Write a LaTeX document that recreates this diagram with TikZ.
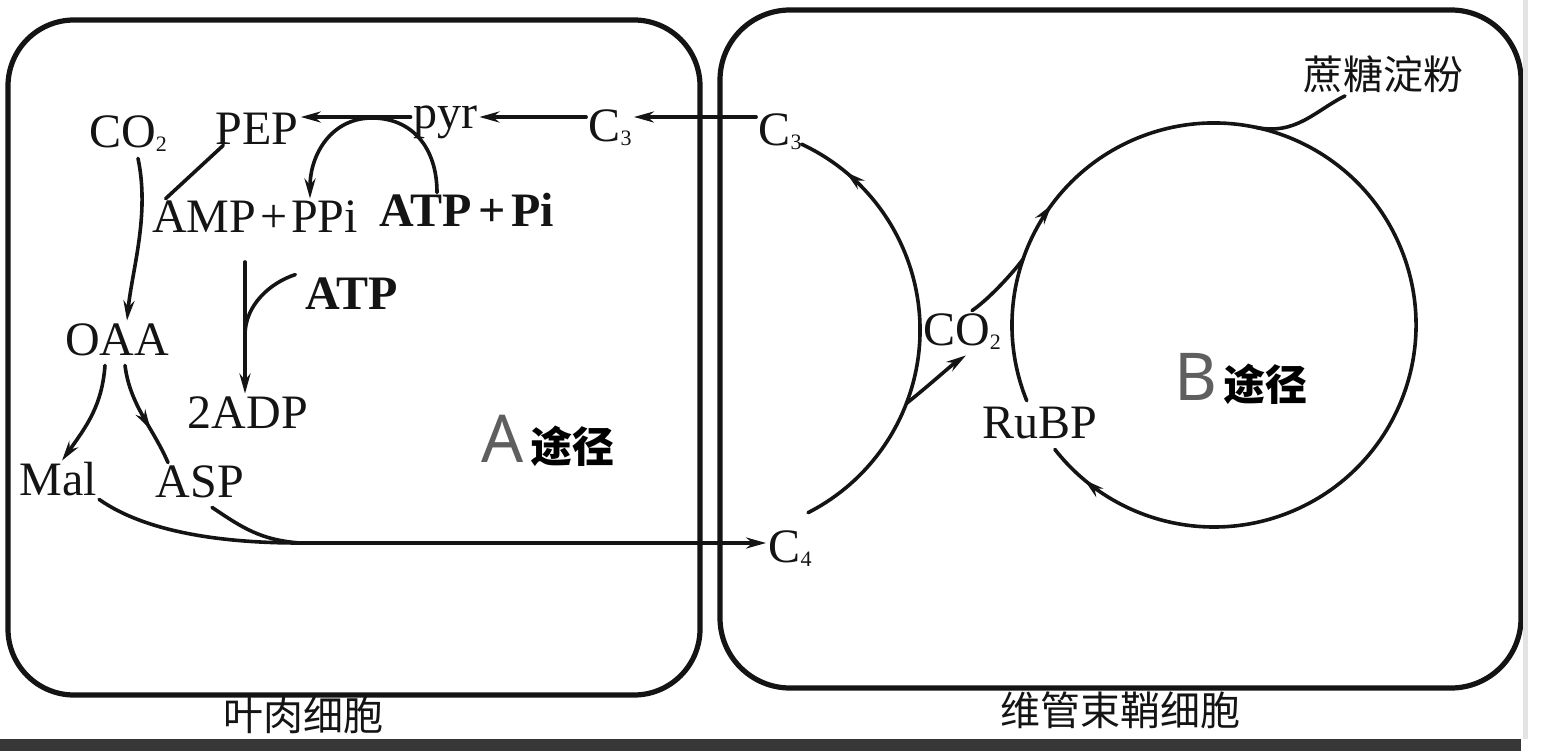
\documentclass[tikz,border=0pt]{standalone}
\usepackage{fontspec}
\setmainfont{Liberation Serif}
\newfontfamily\cjk{Noto Sans CJK SC}
\newfontfamily\latsans{Noto Sans}
\usetikzlibrary{arrows.meta,decorations.markings}
\definecolor{inkc}{RGB}{20,20,20}
\definecolor{grayA}{RGB}{95,95,95}
\definecolor{barc}{RGB}{55,55,55}
\newcommand\mysub[1]{\raisebox{-2pt}{\fontsize{11}{12}\selectfont #1}}
\begin{document}
\begin{tikzpicture}[x=0.5pt,y=0.5pt,
  txt/.style={font=\fontsize{24}{28}\selectfont, inner sep=1pt, text height=16pt, text depth=4pt, anchor=base, text=inkc},
  boldtxt/.style={txt, font=\fontsize{24}{28}\selectfont\bfseries},
  cjkt/.style={font=\cjk\fontsize{20}{24}\selectfont, inner sep=1pt, anchor=base, text=inkc},
  line/.style={line width=1.8pt, draw=inkc, line cap=round},
  box/.style={line width=2.6pt, draw=inkc},
  arr/.style={-{Stealth[length=10pt,width=5.5pt]}},
  marrowo/.style={postaction={decorate,decoration={markings,mark=at position #1 with {\arrow{Stealth[length=10pt,width=5.5pt,fill=white]}}}}},
]
\useasboundingbox (0,0) rectangle (1545,-753);

% cells
\draw[box, rounded corners=33pt] (8,-20) rectangle (700,-695);
\draw[box, rounded corners=35pt] (720,-10) rectangle (1521,-688);
\fill[barc] (0,-739) rectangle (1521,-751);
\fill[gray!22] (1523,0) rectangle (1528,-739);

% nodes
\node[txt] (co2l) at (128,-148) {CO\mysub{2}};
\node[txt] (pep) at (257,-145) {PEP};
\node[txt] (pyr) at (445,-129) {pyr};
\node[txt] (c3l) at (610,-142) {C\mysub{3}};
\node[txt] (c3r) at (780,-146) {C\mysub{3}};
\node[txt] (amp) at (255,-233) {\spaceskip=2pt AMP + PPi};
\node[boldtxt] (atppi) at (467,-227) {\spaceskip=3pt ATP + Pi};
\node[boldtxt] (atp) at (352,-309) {ATP};
\node[txt] (oaa) at (117,-355) {OAA};
\node[txt] (adp) at (248,-428) {2ADP};
\node[txt] (mal) at (58,-495) {Mal};
\node[txt] (asp) at (200,-497) {ASP};
\node[txt] (c4) at (790,-562) {C\mysub{4}};
\node[txt] (co2r) at (962,-345) {CO\mysub{2}};
\node[txt] (rubp) at (1040,-438) {RuBP};
\node[cjkt] (sugar) at (1383,-90) {蔗糖淀粉};
\node[anchor=base, inner sep=1pt] (apath) at (548,-462) {{\latsans\color{grayA}\fontsize{33}{36}\selectfont A}\kern3pt{\cjk\bfseries\fontsize{21}{24}\selectfont 途径}};
\node[anchor=base, inner sep=1pt] (bpath) at (1241,-400) {{\latsans\color{grayA}\fontsize{33}{36}\selectfont B}\kern3pt{\cjk\bfseries\fontsize{21}{24}\selectfont 途径}};
\node[cjkt] (meso) at (303,-730) {叶肉细胞};
\node[cjkt] (bsc) at (1120,-725) {维管束鞘细胞};

% mesophyll connectors
\draw[line,arr] ([yshift=8.5pt]c3r.west) -- ([yshift=8.5pt]c3r.west -| c3l.east);
\draw[line,arr] ([yshift=6.5pt]c3l.west) -- ([yshift=6.5pt]c3l.west -| pyr.east);
\draw[line,arr] ([yshift=0pt]pyr.west) -- ([yshift=0pt]pyr.west -| pep.east);
\coordinate (cpl) at (372,-118);
\draw[line,arr] ([xshift=-15pt]atppi.north) .. controls +(0,45) and +(40,0) .. (cpl)
   .. controls +(-40,0) and +(0,45) .. ([xshift=27.5pt]amp.north);
\draw[line,arr] ([xshift=5pt]co2l.south) .. controls (150,-215) and (132,-270) .. ([xshift=5pt]oaa.north);
\draw[line] ([xshift=5pt,yshift=5pt]pep.south west) -- ([xshift=8pt]amp.north west);
\coordinate (adptop) at (245,-262);
\coordinate (atpjoin) at (245,-335);
\draw[line,arr] (adptop) -- (adptop |- adp.north);
\draw[line] ([xshift=-4pt]atp.north west) .. controls +(-25,-8) and +(0,30) .. (atpjoin);
\draw[line,arr] ([xshift=-6pt]oaa.south) .. controls +(-3,-40) and +(25,35) .. ([xshift=2pt]mal.north);
\draw[line,marrowo=0.65] ([xshift=4pt]oaa.south) .. controls +(5,-40) and +(-15,35) .. ([xshift=-16pt]asp.north);
\coordinate (merge) at (300,-543);
\draw[line] ([yshift=3pt]mal.south east) .. controls +(50,-35) and +(-70,0) .. (merge);
\draw[line] ([xshift=6pt]asp.south) .. controls +(30,-20) and +(-40,3) .. (merge);
\draw[line,arr] (merge) -- (merge -| c4.west);

% bundle sheath connectors
\coordinate (cA) at (715,-330);
\coordinate (c4arc) at ([shift={(-63:102.5pt)}]cA);
\draw[line] (c4arc) arc[start angle=-63,end angle=-21,radius=102.5pt] coordinate (br);
\draw[line,marrowo=0.83] (br) arc[start angle=-21,end angle=65,radius=102.5pt];
\draw[line,arr] (br) .. controls +(25,20) and +(-15,-10) .. ([xshift=2pt]co2r.south);
\coordinate (cB) at (1214,-325);
\coordinate (jn) at ([shift={(161:101pt)}]cB);
\coordinate (rtop) at ([shift={(202:101pt)}]cB);
\coordinate (sbr) at ([shift={(78:101pt)}]cB);
\draw[line] ([xshift=5pt]co2r.north) .. controls +(15,10) and +(-12,-16) .. (jn);
\draw[line,
  postaction={decorate,decoration={markings,
    mark=at position 0.17 with {\arrow{Stealth[length=10pt,width=5.5pt]}},
    mark=at position 0.965 with {\arrow{Stealth[length=10pt,width=5.5pt,fill=white]}}}}]
  (rtop) arc[start angle=202,end angle=-142,radius=101pt];
\draw[line] (sbr) .. controls +(40,-8) and +(-30,-15) .. ([xshift=-19pt]sugar.south);
\end{tikzpicture}
\end{document}
